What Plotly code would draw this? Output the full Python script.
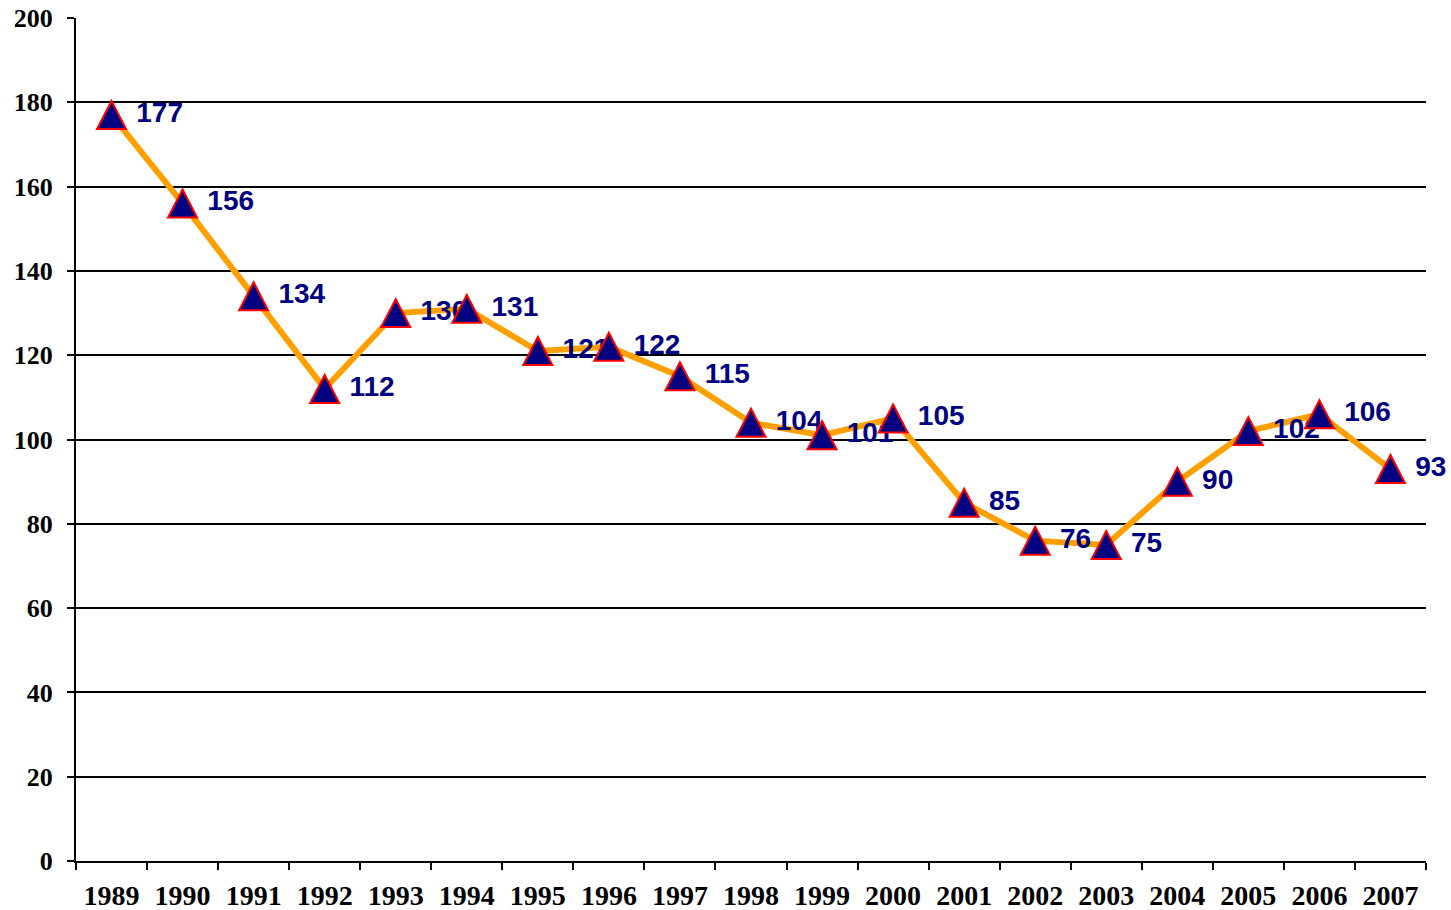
import plotly.graph_objects as go

years = ["1989", "1990", "1991", "1992", "1993", "1994", "1995", "1996", "1997", "1998",
         "1999", "2000", "2001", "2002", "2003", "2004", "2005", "2006", "2007"]
values = [177, 156, 134, 112, 130, 131, 121, 122, 115, 104, 101, 105, 85, 76, 75, 90, 102, 106, 93]
y_ticks = [0, 20, 40, 60, 80, 100, 120, 140, 160, 180, 200]

fig = go.Figure()
# line
fig.add_trace(go.Scatter(
    x=years, y=values, mode="lines",
    line=dict(color="#FFA000", width=6),
    hoverinfo="skip",
))
# data labels (invisible markers used only to offset the text)
fig.add_trace(go.Scatter(
    x=years, y=values, mode="markers+text",
    marker=dict(size=38, opacity=0),
    text=[str(v) for v in values],
    textposition="middle right",
    textfont=dict(family="Liberation Sans, Arial", size=28, color="#000080", weight="bold"),
    cliponaxis=False,
))

# triangle markers as pixel-sized shapes anchored at the data points (drawn above labels)
tri = "M-14.5,-14 L14.5,-14 L0,14 Z"
for i, v in enumerate(values):
    fig.add_shape(
        type="path", xref="x", yref="y",
        xsizemode="pixel", ysizemode="pixel",
        xanchor=i, yanchor=v,
        path=tri,
        fillcolor="#000080",
        line=dict(color="#FF0000", width=2),
        layer="above",
    )

fig.update_layout(
    width=1451, height=910,
    margin=dict(l=76, r=25, t=18, b=49),
    paper_bgcolor="white", plot_bgcolor="white",
    showlegend=False,
    xaxis=dict(
        type="category",
        tickson="boundaries",
        ticks="outside", ticklen=7, tickcolor="black", tickwidth=2,
        showgrid=False,
        showline=True, linecolor="black", linewidth=2,
        tickfont=dict(family="Liberation Serif, Times New Roman", size=28, color="black", weight="bold"),
        ticklabelstandoff=8,
        range=[-0.5, 18.5],
        automargin=False,
    ),
    yaxis=dict(
        range=[0, 200],
        tickvals=y_ticks,
        ticks="outside", ticklen=7, tickcolor="black", tickwidth=2,
        showgrid=True, gridcolor="black", gridwidth=2,
        showline=True, linecolor="black", linewidth=2,
        zeroline=False,
        tickfont=dict(family="Liberation Serif, Times New Roman", size=26, color="black", weight="bold"),
        ticklabelstandoff=9,
        automargin=False,
    ),
)

fig.write_html(
    "out.html",
    config={"displayModeBar": False},
    post_script="document.body.style.margin='0';document.body.style.overflow='hidden';",
)
